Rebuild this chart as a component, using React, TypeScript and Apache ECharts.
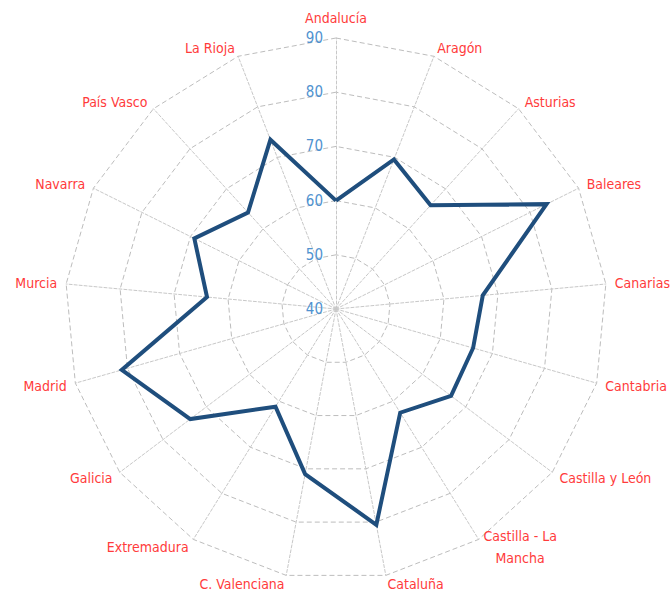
import React, { useEffect, useRef } from "react";
import * as echarts from "echarts";

const regions = [
  "Andalucía",
  "Aragón",
  "Asturias",
  "Baleares",
  "Canarias",
  "Cantabria",
  "Castilla y León",
  "Castilla - La\n   Mancha",
  "Cataluña",
  "C. Valenciana",
  "Extremadura",
  "Galicia",
  "Madrid",
  "Murcia",
  "Navarra",
  "País Vasco",
  "La Rioja",
];

const values = [60, 69.6, 65.9, 83.4, 67.2, 66.3, 66.6, 62.5, 80.5, 71, 61.2, 73.7, 81.1, 63.9, 69.2, 64.1, 73.5];

const axisMin = 40;
const axisMax = 90;

const FONT = '"Liberation Sans Narrow", "DejaVu Sans Condensed", "Arial Narrow", sans-serif';

export default function App() {
  const ref = useRef<HTMLDivElement>(null);
  useEffect(() => {
    if (!ref.current) return;
    const chart = echarts.init(ref.current, null, { renderer: "svg" });
    // ECharts radar runs counter-clockwise; reorder so the regions go clockwise
    const order = [0, ...regions.slice(1).map((_, i) => regions.length - 1 - i)];
    const indicator = order.map((k, j) => ({
      name: regions[k],
      min: axisMin,
      max: axisMax,
      ...(j === 0
        ? {
            axisLabel: {
              show: true,
              color: "#4f92d0",
              fontFamily: FONT,
              fontSize: 15,
              margin: 13,
            },
          }
        : {}),
    }));
    chart.setOption({
      animation: false,
      backgroundColor: "#ffffff",
      radar: {
        center: [336, 309],
        radius: 271,
        startAngle: 90,
        shape: "polygon",
        splitNumber: 5,
        nameGap: 9,
        indicator,
        axisName: {
          color: "#ff3b3b",
          fontFamily: FONT,
          fontSize: 14,
          lineHeight: 22,
        },
        axisLine: { lineStyle: { color: "#c8c8c8", width: 1, type: [3, 2] } },
        splitLine: { lineStyle: { color: "#bdbdbd", width: 1, type: [5, 3] } },
        splitArea: { show: false },
        axisTick: { show: false },
        axisLabel: { show: false },
      },
      series: [
        {
          type: "radar",
          symbol: "none",
          lineStyle: { color: "#1f4e7d", width: 4, join: "miter" },
          data: [{ value: order.map((k) => values[k]), name: "Valor" }],
        },
      ],
    });
    return () => chart.dispose();
  }, []);
  return (
    <div
      ref={ref}
      style={{ position: "absolute", left: 0, top: 0, width: 671, height: 597 }}
    />
  );
}
